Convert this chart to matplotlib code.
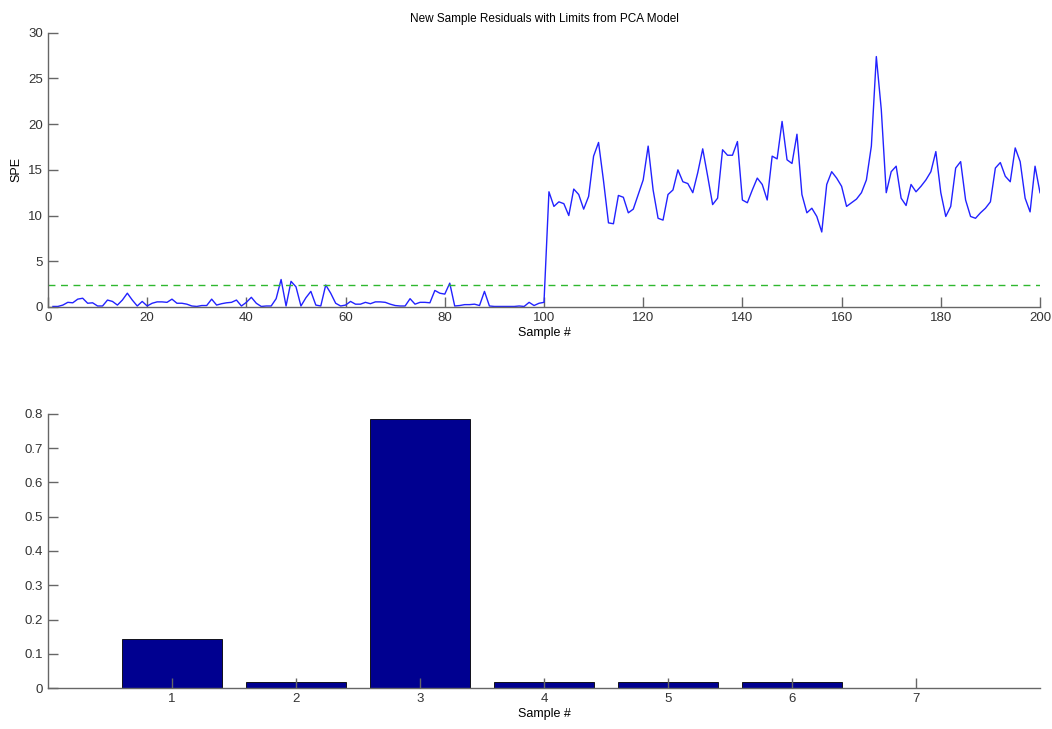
import numpy as np
import matplotlib
matplotlib.use("Agg")
import matplotlib.pyplot as plt

plt.rcParams['font.family'] = ['Liberation Sans', 'DejaVu Sans']

# SPE of each new sample (samples 1..200)
spe_low = [0.05, 0.05, 0.2, 0.5, 0.45, 0.85, 0.95, 0.4, 0.45, 0.1,
           0.1, 0.75, 0.6, 0.2, 0.75, 1.5, 0.75, 0.1, 0.6, 0.1,
           0.4, 0.55, 0.55, 0.5, 0.85, 0.4, 0.4, 0.3, 0.1, 0.05,
           0.15, 0.15, 0.85, 0.2, 0.35, 0.45, 0.5, 0.75, 0.1, 0.5,
           1.05, 0.4, 0.05, 0.1, 0.1, 0.9, 3.0, 0.1, 2.8, 2.2,
           0.1, 1.0, 1.7, 0.2, 0.1, 2.4, 1.5, 0.4, 0.1, 0.2,
           0.6, 0.3, 0.3, 0.5, 0.35, 0.55, 0.55, 0.5, 0.3, 0.15,
           0.1, 0.1, 0.9, 0.3, 0.5, 0.5, 0.45, 1.8, 1.5, 1.4,
           2.6, 0.1, 0.15, 0.25, 0.25, 0.3, 0.15, 1.7, 0.1, 0.05,
           0.05, 0.05, 0.05, 0.05, 0.1, 0.05, 0.5, 0.15, 0.4, 0.5]
spe_high = [12.6, 11.0, 11.5, 11.3, 10.0, 12.9, 12.3, 10.7, 12.1, 16.5,
            18.0, 13.8, 9.2, 9.1, 12.2, 12.0, 10.3, 10.7, 12.3, 13.9,
            17.6, 12.8, 9.7, 9.5, 12.3, 12.8, 15.0, 13.7, 13.5, 12.5,
            14.7, 17.3, 14.3, 11.2, 11.9, 17.2, 16.6, 16.6, 18.1, 11.7,
            11.4, 12.8, 14.1, 13.4, 11.7, 16.5, 16.2, 20.3, 16.1, 15.7,
            18.9, 12.3, 10.3, 10.8, 9.9, 8.2, 13.4, 14.8, 14.1, 13.2,
            11.0, 11.4, 11.8, 12.5, 13.9, 17.6, 27.4, 21.6, 12.5, 14.8,
            15.4, 11.9, 11.1, 13.4, 12.6, 13.2, 13.9, 14.8, 17.0, 12.5,
            9.9, 11.0, 15.2, 15.9, 11.7, 9.9, 9.7, 10.3, 10.8, 11.5,
            15.2, 15.8, 14.3, 13.7, 17.4, 15.9, 11.9, 10.4, 15.4, 12.5]
spe = spe_low + spe_high
spe_limit = 2.45

# contribution bars
contrib_labels = [1, 2, 3, 4, 5, 6, 7]
contrib_values = [0.143, 0.018, 0.785, 0.018, 0.018, 0.018, 0.0]
contrib_yticks = [0, 0.1, 0.2, 0.3, 0.4, 0.5, 0.6, 0.7, 0.8]
contrib_yticklabels = ['0', '0.1', '0.2', '0.3', '0.4', '0.5', '0.6', '0.7', '0.8']

axis_grey = '#666666'

def style_axes(ax):
    for side in ['top', 'right']:
        ax.spines[side].set_visible(False)
    for side in ['left', 'bottom']:
        ax.spines[side].set_color(axis_grey)
        ax.spines[side].set_linewidth(1.0)
    ax.tick_params(direction='in', length=7, width=1, color=axis_grey,
                   labelsize=9.5, labelcolor='#333333')

fig = plt.figure(figsize=(10.52, 7.29), dpi=100)

ax1 = fig.add_axes([0.0456, 0.579, 0.943, 0.376])
samples = np.arange(1, len(spe) + 1)
ax1.plot(samples, spe, color='#2222ff', lw=1.0)
ax1.axhline(spe_limit, color='#2fb82f', lw=1.0, ls=(0, (5, 4)))
ax1.set_xlim(0, 200)
ax1.set_ylim(0, 30)
ax1.set_xticks(np.arange(0, 201, 20))
ax1.set_yticks(np.arange(0, 31, 5))
ax1.set_title('New Sample Residuals with Limits from PCA Model', fontsize=8.5, pad=8)
ax1.set_xlabel('Sample #', fontsize=9, labelpad=2)
ax1.set_ylabel('SPE', fontsize=9, labelpad=4)
style_axes(ax1)

ax2 = fig.add_axes([0.0456, 0.0562, 0.943, 0.376])
ax2.bar(contrib_labels, contrib_values, width=0.8, color='#000090',
        edgecolor='black', linewidth=0.6)
ax2.set_xlim(0, 8)
ax2.set_ylim(0, 0.8)
ax2.set_xticks(contrib_labels)
ax2.set_yticks(contrib_yticks)
ax2.set_yticklabels(contrib_yticklabels)
ax2.set_xlabel('Sample #', fontsize=9, labelpad=2)
style_axes(ax2)

fig.savefig('out.png', dpi=100)
